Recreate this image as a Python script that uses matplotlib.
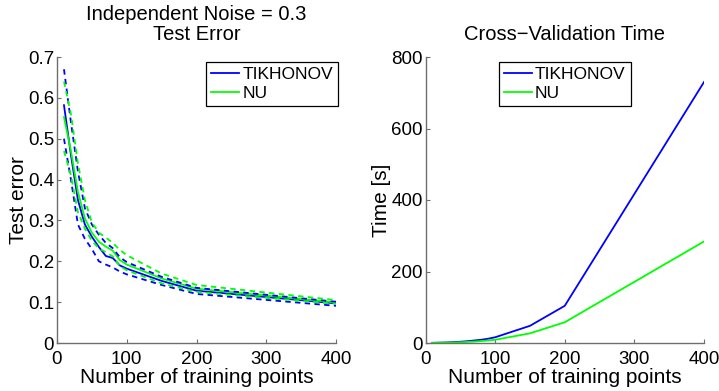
import matplotlib
matplotlib.use("Agg")
import matplotlib.pyplot as plt

plt.rcParams['font.family'] = ['Liberation Sans', 'DejaVu Sans']

# Training-set sizes
n_train = [10, 20, 30, 40, 50, 60, 70, 80, 90, 100, 150, 200, 400]

# Test error: mean and +/- spread bands
tik_err = [0.582, 0.46, 0.35, 0.29, 0.26, 0.235, 0.213, 0.208, 0.19, 0.182, 0.152, 0.128, 0.097]
tik_err_hi = [0.67, 0.54, 0.42, 0.33, 0.29, 0.265, 0.245, 0.232, 0.21, 0.198, 0.162, 0.135, 0.101]
tik_err_lo = [0.50, 0.40, 0.29, 0.255, 0.23, 0.20, 0.192, 0.185, 0.175, 0.168, 0.142, 0.120, 0.091]
nu_err = [0.553, 0.47, 0.37, 0.305, 0.27, 0.248, 0.236, 0.226, 0.203, 0.192, 0.158, 0.133, 0.099]
nu_err_hi = [0.64, 0.56, 0.44, 0.35, 0.295, 0.27, 0.258, 0.245, 0.228, 0.215, 0.170, 0.142, 0.105]
nu_err_lo = [0.47, 0.41, 0.32, 0.28, 0.25, 0.232, 0.222, 0.212, 0.188, 0.178, 0.146, 0.125, 0.096]

# Cross-validation time in seconds
tik_time = [0.5, 1, 1.5, 2.5, 3.5, 5, 7, 9, 12, 16, 48, 104, 730]
nu_time = [0.3, 0.6, 1, 1.5, 2, 3, 4, 5.5, 7, 9, 27, 58, 284]

series_names = ['TIKHONOV', 'NU']
blue = (0, 0, 1)
green = (0, 1, 0)
spine_gray = '#6e6e6e'
tick_fs = 13.5
label_fs = 15
title_fs = 14.5
legend_fs = 12.5

fig = plt.figure(figsize=(7.19, 3.91), dpi=100)
ax1 = fig.add_axes([57 / 719, 48 / 391, 279 / 719, 286 / 391])
ax2 = fig.add_axes([425.5 / 719, 48 / 391, 278.5 / 719, 286 / 391])

dash = (0, (3.0, 2.4))
lw = 1.3
ax1.plot(n_train, tik_err, color=blue, lw=lw, label=series_names[0])
ax1.plot(n_train, nu_err, color=green, lw=lw, label=series_names[1])
ax1.plot(n_train, tik_err_hi, color=blue, lw=lw, linestyle=dash)
ax1.plot(n_train, tik_err_lo, color=blue, lw=lw, linestyle=dash)
ax1.plot(n_train, nu_err_hi, color=green, lw=lw, linestyle=dash)
ax1.plot(n_train, nu_err_lo, color=green, lw=lw, linestyle=dash)

ax2.plot(n_train, tik_time, color=blue, lw=lw, label=series_names[0])
ax2.plot(n_train, nu_time, color=green, lw=lw, label=series_names[1])

ax1.set_xlim(0, 400)
ax1.set_ylim(0, 0.7)
ax1.set_yticks([0, 0.1, 0.2, 0.3, 0.4, 0.5, 0.6, 0.7])
ax1.set_yticklabels(['0', '0.1', '0.2', '0.3', '0.4', '0.5', '0.6', '0.7'])
ax2.set_xlim(0, 400)
ax2.set_ylim(0, 800)
ax2.set_yticks([0, 200, 400, 600, 800])

for ax in (ax1, ax2):
    ax.set_xticks([0, 100, 200, 300, 400])
    for side in ('top', 'right'):
        ax.spines[side].set_visible(False)
    for side in ('left', 'bottom'):
        ax.spines[side].set_color(spine_gray)
        ax.spines[side].set_linewidth(1.0)
    ax.tick_params(direction='in', length=3, width=0.8, color=spine_gray,
                   labelsize=tick_fs, labelcolor='black')
    ax.tick_params(axis='y', pad=2)
    ax.tick_params(axis='x', pad=6)
    ax.set_xlabel('Number of training points', fontsize=label_fs, labelpad=0)

ax1.set_ylabel('Test error', fontsize=label_fs, labelpad=0)
ax2.set_ylabel('Time [s]', fontsize=label_fs, labelpad=0)
ax1.set_title('Independent Noise = 0.3\nTest Error', fontsize=title_fs,
              linespacing=1.1, pad=12)
ax2.set_title('Cross\u2212Validation Time', fontsize=title_fs, pad=12)

leg_kw = dict(fontsize=legend_fs, frameon=True, fancybox=False, edgecolor='black',
              framealpha=1, handlelength=1.6, handletextpad=0.2,
              borderpad=0.3, labelspacing=0.2, borderaxespad=0)
leg1 = ax1.legend(loc='upper right', bbox_to_anchor=(281 / 279, 1 - 5 / 286), **leg_kw)
leg2 = ax2.legend(loc='upper center', bbox_to_anchor=(0.5, 1 - 5 / 286), **leg_kw)
for leg in (leg1, leg2):
    leg.get_frame().set_linewidth(0.9)

fig.savefig('out.png', dpi=100)
